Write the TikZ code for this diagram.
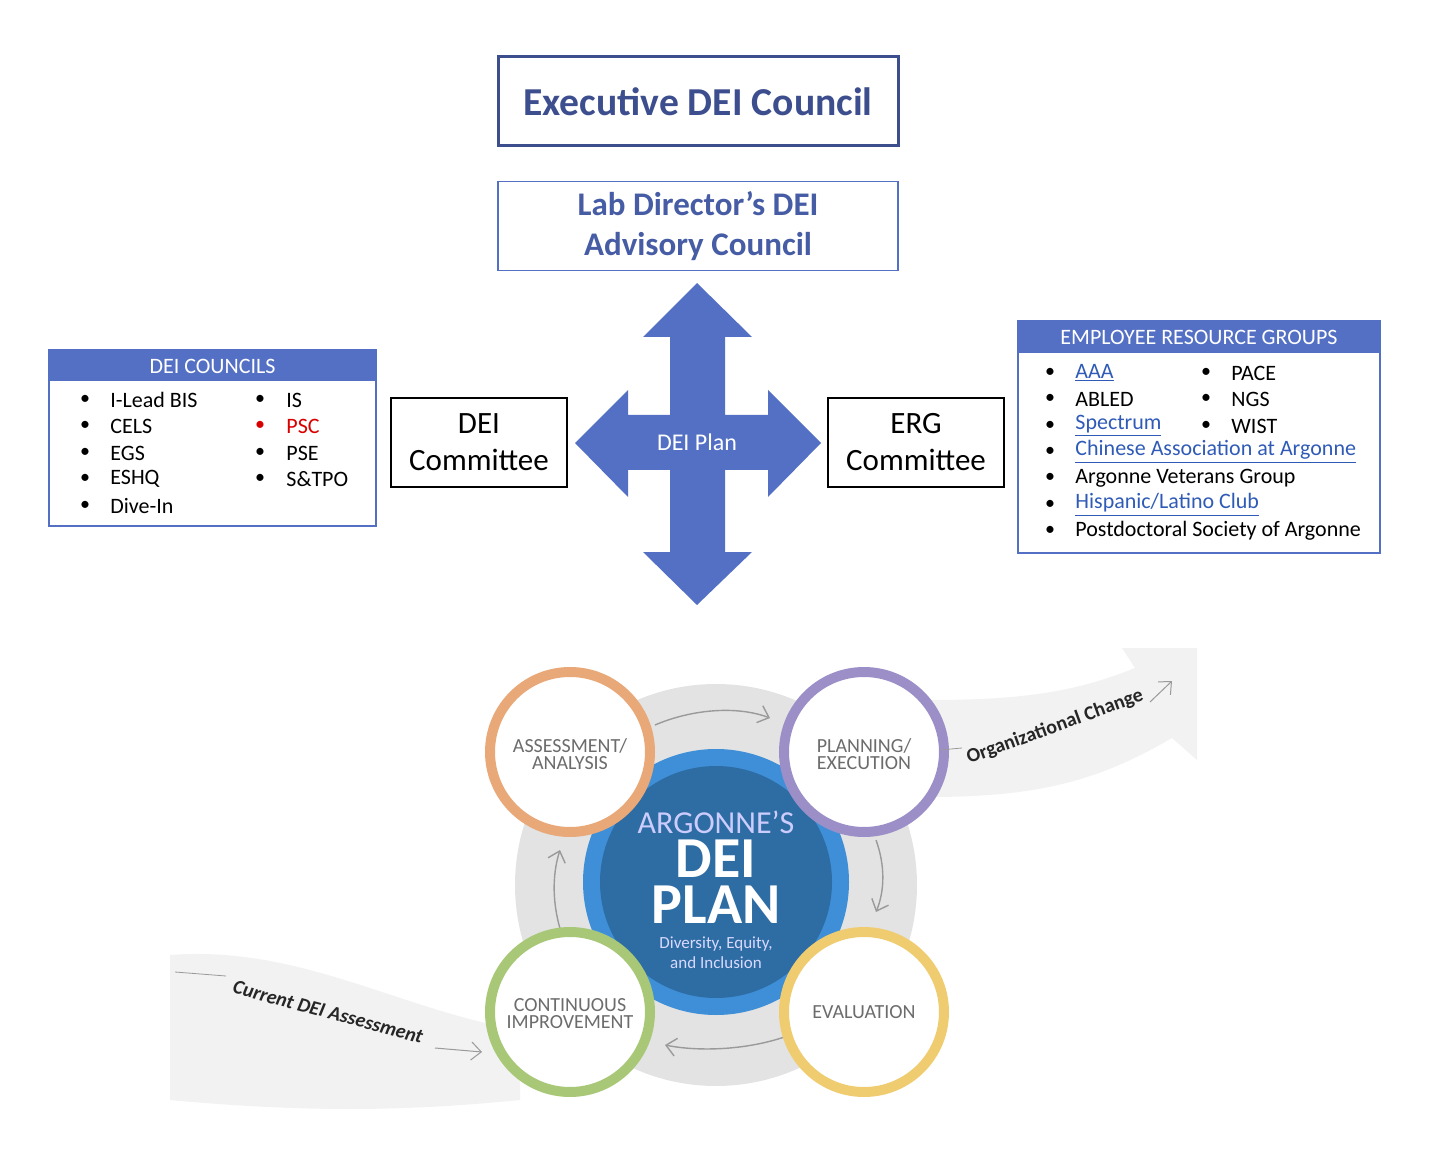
\documentclass[tikz,border=0pt]{standalone}
\usepackage{fontspec}
\setmainfont{Carlito}
\usetikzlibrary{arrows.meta}
\definecolor{dblue}{HTML}{3D4E8E}
\definecolor{mblue}{HTML}{5470C4}
\definecolor{lnk}{HTML}{2F5BB7}
\definecolor{cgray}{HTML}{9A9A9A}
\definecolor{rimb}{HTML}{3E8FD8}
\definecolor{innb}{HTML}{2E6CA4}
\definecolor{cor}{HTML}{E8A878}
\definecolor{cpu}{HTML}{9C8FC8}
\definecolor{cgr}{HTML}{A8C878}
\definecolor{cye}{HTML}{F0CC70}
\tikzset{
 px/.style={x=0.5pt,y=-0.5pt},
 itm/.style={anchor=west,font=\fontsize{11}{13}\selectfont,inner sep=0pt},
 bul/.style={font=\fontsize{10}{12}\selectfont,inner sep=0pt},
 ring/.style={draw=#1,line width=5pt,fill=white},
 ctxt/.style={font=\fontsize{10}{8.5}\selectfont,text=gray!85!black,align=center},
 garr/.style={draw=cgray,line width=0.7pt,-{Straight Barb[length=5pt,width=9pt]}},
 comm/.style={draw,thick,minimum width=88pt,minimum height=44.5pt,align=center,font=\fontsize{15.5}{18.5}\selectfont}
}
\newcommand{\lk}[1]{\textcolor{lnk}{\underline{#1}}}
\begin{document}
\begin{tikzpicture}[px]
\useasboundingbox (0,0) rectangle (1431,1155);
% top boxes
\node[draw=dblue,line width=1.5pt,minimum width=200pt,minimum height=44.5pt,text=dblue,font=\bfseries\fontsize{19.8}{22}\selectfont] (exec) at (698,101.5) {Executive DEI Council};
\node[draw=mblue,line width=0.8pt,minimum width=200pt,minimum height=44.5pt,text=dblue!60!mblue,align=center,font=\bfseries\fontsize{16.5}{20}\selectfont] (lab) at (698,226) {Lab Director’s DEI\\Advisory Council};
% cross arrow
\fill[mblue] (697,283) -- (752,337) -- (725,337) -- (725,415) -- (768,415) -- (768,390) -- (821,443) -- (768,497) -- (768,470) -- (725,470) -- (725,552) -- (752,552) -- (697,605) -- (643,552) -- (670,552) -- (670,470) -- (628,470) -- (628,497) -- (575,443) -- (628,390) -- (628,415) -- (670,415) -- (670,337) -- (643,337) -- cycle;
\node[text=white,font=\fontsize{12}{14}\selectfont] (plan) at (697,442) {DEI Plan};
% committees
\node[comm] (dc) at (479,442.5) {DEI\\Committee};
\node[comm] (ec) at (916,442.5) {ERG\\Committee};
% DEI councils
\draw[mblue,line width=0.8pt] (49,350) rectangle (376,526);
\fill[mblue] (49,350) rectangle (376,381);
\node[text=white,font=\fontsize{11}{13}\selectfont] (dch) at (212.5,366) {DEI COUNCILS};
\foreach \y/\t in {400/I-Lead BIS,426/CELS,453/EGS,479/ESHQ,506/Dive-In}{
 \node[bul] at (85,\y) {•}; \node[itm] at (110,\y) {\t};}
\foreach \y/\t in {400/IS,453/PSE,479/S\&TPO}{
 \node[bul] at (260,\y) {•}; \node[itm] at (286,\y) {\t};}
\node[bul,text=red!85!black] at (260,426) {•}; \node[itm,text=red!85!black] at (286,426) {PSC};
% ERG
\draw[mblue,line width=0.8pt] (1018,321) rectangle (1380,553);
\fill[mblue] (1018,321) rectangle (1380,353);
\node[text=white,font=\fontsize{11}{13}\selectfont] (egh) at (1199,337) {EMPLOYEE RESOURCE GROUPS};
\foreach \y/\t in {373/\lk{AAA},399/ABLED,426/\lk{Spectrum},452/\lk{Chinese Association at Argonne},478/Argonne Veterans Group,505/\lk{Hispanic/Latino Club},531/Postdoctoral Society of Argonne}{
 \node[bul] at (1050,\y) {•}; \node[itm] at (1075,\y) {\t};}
\foreach \y/\t in {373/PACE,399/NGS,426/WIST}{
 \node[bul] at (1206,\y) {•}; \node[itm] at (1231,\y) {\t};}
% bottom graphic
\fill[gray!10] (170,955) .. controls (300,945) and (400,1010) .. (520,1030) -- (520,1100) .. controls (400,1112) and (300,1112) .. (170,1100) -- cycle;
\fill[gray!10] (930,700) .. controls (1030,700) and (1080,690) .. (1135,668) -- (1122,648) -- (1197,648) -- (1197,760) -- (1172,738) .. controls (1100,780) and (1040,797) .. (930,797) -- cycle;
\fill[gray!22] (716,885) circle (201);
\draw[garr] (655,725) .. controls (690,710) and (735,705) .. (770,718);
\draw[garr] (876,840) .. controls (885,865) and (885,890) .. (876,912);
\draw[garr] (790,1035) .. controls (750,1050) and (700,1052) .. (665,1045);
\draw[garr] (562,935) .. controls (552,905) and (552,875) .. (560,850);
\fill[rimb] (716,882) circle (133);
\fill[innb] (716,882) circle (116);
\node[ring=cor,circle,minimum size=80pt] (as) at (570,752) {};
\node[ring=cpu,circle,minimum size=80pt] (pl) at (864,752) {};
\node[ring=cgr,circle,minimum size=80pt] (ci) at (570,1012) {};
\node[ring=cye,circle,minimum size=80pt] (ev) at (864,1012) {};
\node[ctxt] at (570,754) {ASSESSMENT/\\ANALYSIS};
\node[ctxt] at (864,754) {PLANNING/\\EXECUTION};
\node[ctxt] at (570,1014) {CONTINUOUS\\IMPROVEMENT};
\node[ctxt] at (864,1012) {EVALUATION};
\node[text=white!80!blue,font=\fontsize{16}{16}\selectfont] (arg) at (716,822) {ARGONNE’S};
\node[text=white,font=\bfseries\fontsize{29}{23}\selectfont,align=center] (dp) at (716,882) {DEI\\PLAN};
\node[text=white!85!blue,font=\fontsize{8.5}{10}\selectfont,align=center] (dv) at (716,953) {Diversity, Equity,\\and Inclusion};
\coordinate (l1) at (175,972); \coordinate (l2) at (226,976);
\draw[gray!80,thin] (l1) -- (l2);
\node[rotate=-15,font=\bfseries\itshape\fontsize{10}{11}\selectfont,text=gray!30!black] (cda) at (328,1012) {Current DEI Assessment};
\coordinate (a1) at (435,1048); \coordinate (a2) at (482,1052);
\draw[garr,line width=0.5pt] (a1) -- (a2);
\coordinate (r1) at (940,750); \coordinate (r2) at (962,748);
\draw[gray!80,thin] (r1) -- (r2);
\node[rotate=20,font=\bfseries\fontsize{10}{11}\selectfont,text=gray!30!black] (oc) at (1055,727) {Organizational Change};
\coordinate (b1) at (1150,702); \coordinate (b2) at (1172,681);
\draw[garr,line width=0.5pt] (b1) -- (b2);
\end{tikzpicture}
\end{document}
